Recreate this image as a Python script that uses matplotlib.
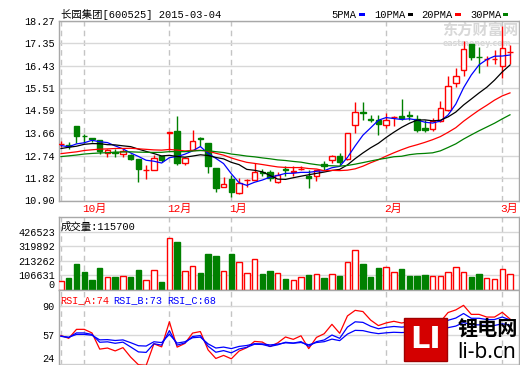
# -*- coding: utf-8 -*-
"""
长园集团 日K线 + 成交量 + RSI 复刻图
"""
import numpy as np
import pandas as pd
import matplotlib
matplotlib.use('Agg')
import matplotlib.pyplot as plt
from matplotlib import transforms
from matplotlib.patches import Rectangle

# ---- 数据 ----
title_text = '长园集团[600525] 2015-03-04'

# 可见区间之前的收盘价 (用于均线/RSI 预热, 估计值)
prior_closes = [12.20, 12.55, 12.30, 12.70, 12.35, 12.60, 12.25, 12.65, 12.40, 12.60,
                12.35, 12.80, 12.45, 12.85, 12.40, 12.75, 12.50, 12.90, 12.45, 12.65,
                12.60, 13.10, 12.75, 13.15, 12.95, 13.35, 12.95, 13.30, 12.93]

opens = [13.20, 13.18, 13.97, 13.55, 13.46, 13.40, 12.85, 12.87, 12.82, 12.75,
         12.60, 12.15, 12.17, 12.71, 13.68, 13.74, 12.44, 12.99, 13.46, 13.26,
         12.24, 11.44, 11.79, 11.22, 11.74, 11.73, 12.05, 12.06, 11.66, 12.19,
         12.08, 12.19, 11.90, 11.92, 12.40, 12.54, 12.71, 12.60, 13.98, 14.51,
         14.24, 14.18, 13.98, 14.31, 14.38, 14.39, 14.24, 13.88, 13.83, 14.15,
         14.63, 15.72, 16.26, 17.33, 16.80, 16.68, 16.68, 16.40, 16.97]
closes = [13.22, 13.12, 13.53, 13.53, 13.44, 12.92, 12.95, 12.85, 12.92, 12.60,
          12.21, 12.17, 12.65, 12.55, 13.70, 12.44, 12.65, 13.33, 13.44, 12.30,
          11.42, 11.58, 11.24, 11.60, 11.76, 12.06, 12.03, 11.83, 11.96, 12.17,
          12.10, 12.21, 11.83, 12.17, 12.30, 12.71, 12.48, 13.67, 14.53, 14.49,
          14.22, 14.04, 14.22, 14.33, 14.29, 14.37, 13.78, 13.78, 14.15, 14.70,
          15.61, 16.02, 17.11, 16.78, 16.78, 16.70, 16.70, 17.15, 16.99]
highs = [13.35, 13.30, 13.97, 13.64, 13.48, 13.40, 13.02, 13.02, 13.02, 12.80,
         12.60, 12.35, 12.78, 12.71, 13.70, 14.38, 12.70, 13.81, 13.50, 13.26,
         12.24, 11.85, 11.96, 11.83, 11.79, 12.44, 12.20, 12.17, 12.06, 12.30,
         12.30, 12.33, 12.17, 12.17, 12.51, 12.78, 12.85, 13.67, 14.93, 14.93,
         14.42, 14.42, 14.49, 14.38, 15.06, 14.56, 14.42, 14.20, 14.29, 14.97,
         16.02, 16.33, 17.42, 17.33, 17.18, 16.81, 17.05, 18.07, 17.29]
lows = [13.10, 13.03, 13.26, 13.27, 13.30, 12.82, 12.69, 12.68, 12.70, 12.55,
        11.66, 11.80, 12.15, 12.46, 12.95, 12.37, 12.37, 12.95, 13.12, 12.03,
        11.24, 11.44, 11.05, 11.17, 11.46, 11.73, 11.92, 11.69, 11.60, 11.92,
        11.90, 12.14, 11.42, 11.69, 12.17, 12.44, 12.37, 12.55, 13.67, 14.18,
        14.11, 13.60, 13.88, 13.94, 14.20, 14.19, 13.71, 13.71, 13.74, 14.10,
        14.55, 15.55, 16.02, 16.65, 16.13, 16.40, 16.51, 15.92, 16.51]
volumes = [69000, 91000, 192000, 129000, 71000, 163000, 96000, 96000, 103000, 96000,
           149000, 76000, 146000, 57000, 379000, 352000, 139000, 173000, 127000, 265000,
           250000, 139000, 265000, 204000, 125000, 226000, 120000, 141000, 125000, 81000,
           74000, 96000, 112000, 117000, 91000, 117000, 105000, 204000, 291000, 192000,
           98000, 163000, 168000, 132000, 156000, 105000, 105000, 112000, 103000, 103000,
           132000, 168000, 132000, 98000, 120000, 88000, 81000, 154000, 115700]

ma_periods = [5, 10, 20, 30]
ma_names = ['5PMA', '10PMA', '20PMA', '30PMA']
rsi_periods = [6, 12, 24]
rsi_label_parts = ['RSI_A:74', 'RSI_B:73', 'RSI_C:68']

month_pos = [0, 3, 14, 22, 42, 57]
month_labels = ['', '10月', '12月', '1月', '2月', '3月']

price_ticks = [10.90, 11.82, 12.74, 13.66, 14.59, 15.51, 16.43, 17.35, 18.27]
vol_ticks = [0, 106631, 213262, 319892, 426523]
rsi_ticks = [24, 57, 90]

# ---- 样式 ----
RED = '#ff0000'
GREEN = '#008000'
BLUE = '#0000ff'
GRID = '#d8d8d8'
VGRID = '#c4c4c4'
SPINE = '#a8a8a8'
ma_colors = [BLUE, 'black', RED, GREEN]
rsi_colors = [RED, BLUE, BLUE]
MONO = ['Liberation Mono', 'Noto Sans CJK SC']
CJK = ['Noto Sans CJK SC', 'DejaVu Sans']

plt.rcParams['font.family'] = MONO

W, H = 520, 365


def fx(px):
    return px / W


def fy(py):
    return 1 - py / H


def style_axes(ax):
    for sp in ax.spines.values():
        sp.set_color(SPINE)
        sp.set_linewidth(1)
    ax.tick_params(length=0, pad=3, labelsize=7.3, colors='black')
    ax.set_xticks([])
    ax.set_xlim(-0.26, 59.1)
    ax.set_axisbelow(True)
    ax.grid(axis='y', color=GRID, linewidth=1)
    for m in month_pos:
        ax.axvline(m, color=VGRID, linewidth=1, linestyle=(0, (4, 3)), zorder=0.5)


# ---- 计算均线和RSI ----
full_close = pd.Series(prior_closes + closes)
n_prior = len(prior_closes)
ma_lines = [full_close.rolling(p).mean().iloc[n_prior:].to_numpy() for p in ma_periods]

diff = full_close.diff().fillna(0)
rsi_lines = []
for p in rsi_periods:
    up_avg = diff.clip(lower=0).ewm(alpha=1 / p, adjust=False).mean()
    abs_avg = diff.abs().ewm(alpha=1 / p, adjust=False).mean()
    rsi_lines.append((up_avg / abs_avg * 100).iloc[n_prior:].to_numpy())

o = np.array(opens)
c = np.array(closes)
hi = np.array(highs)
lo = np.array(lows)
vol = np.array(volumes)
x = np.arange(len(c))
is_up = c >= o
col = np.where(is_up, RED, GREEN)

fig = plt.figure(figsize=(W / 100, H / 100), dpi=100)
fig.patch.set_facecolor('white')

# ---- K线 ----
ax1 = fig.add_axes([fx(59), fy(200.5), fx(459.5), 179.8 / H])
style_axes(ax1)
ax1.set_ylim(10.90, 18.27)
ax1.set_yticks(price_ticks)
ax1.set_yticklabels(['%.2f' % t for t in price_ticks])

ax1.vlines(x, lo, hi, colors=col, linewidth=1, zorder=2)
body_bottom = np.minimum(o, c)
body_h = np.maximum(np.abs(c - o), 0.012)
ax1.bar(x[is_up], body_h[is_up], bottom=body_bottom[is_up], width=0.7,
        facecolor='white', edgecolor=RED, linewidth=1, zorder=3)
ax1.bar(x[~is_up], body_h[~is_up], bottom=body_bottom[~is_up], width=0.7,
        facecolor=GREEN, edgecolor=GREEN, linewidth=1, zorder=3)

for line, color in zip(ma_lines, ma_colors):
    ax1.plot(x, line, color=color, linewidth=0.9, zorder=4)

# 月份标签
trans = transforms.blended_transform_factory(ax1.transData, ax1.transAxes)
for m, lab in zip(month_pos, month_labels):
    if lab:
        ax1.text(m - 0.3, -0.045, lab, transform=trans, ha='left', va='center',
                 fontsize=8, color=RED)

# 东方财富 水印
ax1.text(fx(442), fy(30), '东方财富网', transform=fig.transFigure, fontsize=11,
         family=CJK, weight='bold', color='#d8d8d8', va='center', ha='left', zorder=0.6)
ax1.text(fx(443), fy(43), 'eastmoney.com', transform=fig.transFigure, fontsize=5.6,
         family=['DejaVu Sans'], weight='bold', color='#d8d8d8', va='center', ha='left',
         zorder=0.6)

# 标题和图例
fig.text(fx(61), fy(14.5), title_text, fontsize=7.5, va='center', ha='left')
legend_x = [331, 374.3, 421.7, 470]
mark_x = [359.3, 407.7, 455, 502.7]
for name, lx, mx, color in zip(ma_names, legend_x, mark_x, ma_colors):
    fig.text(fx(lx), fy(14.5), name, fontsize=7.5, va='center', ha='left')
    fig.patches.append(Rectangle((fx(mx), fy(15.5)), fx(5.5), 3 / H, transform=fig.transFigure,
                                 facecolor=color, edgecolor='none'))

# ---- 成交量 ----
ax2 = fig.add_axes([fx(59), fy(290), fx(459.5), 73.3 / H])
style_axes(ax2)
ax2.set_ylim(0, 535000)
ax2.set_yticks(vol_ticks)
ax2.set_yticklabels([str(t) for t in vol_ticks])
ax2.yaxis.get_major_ticks()[0].label1.set_verticalalignment('bottom')
ax2.bar(x[is_up], vol[is_up], width=0.7, facecolor='white', edgecolor=RED,
        linewidth=1, zorder=3)
ax2.bar(x[~is_up], vol[~is_up], width=0.7, facecolor=GREEN, edgecolor=GREEN,
        linewidth=1, zorder=3)
ax2.text(0.003, 0.87, '成交量:%d' % volumes[-1], transform=ax2.transAxes,
         fontsize=7.5, va='center', ha='left')

# ---- RSI ----
ax3 = fig.add_axes([fx(59), 0, fx(459.5), 75 / H])
style_axes(ax3)
ax3.set_ylim(23.2, 107.7)
ax3.set_yticks(rsi_ticks)
ax3.set_yticklabels([str(t) for t in rsi_ticks])
ax3.yaxis.get_major_ticks()[0].label1.set_verticalalignment('bottom')
for line, color in zip(rsi_lines, rsi_colors):
    ax3.plot(x, line, color=color, linewidth=0.9, zorder=3)
rsi_text_x = [60, 113, 167]
for part, tx, color in zip(rsi_label_parts, rsi_text_x, rsi_colors):
    fig.text(fx(tx), fy(300), part, fontsize=7.3, color=color, va='center', ha='left')

# ---- 锂电网 标志 ----
fig.patches.append(Rectangle((fx(404), fy(361)), fx(43), 43 / H, transform=fig.transFigure,
                             facecolor='#d40000', edgecolor='#a00000', linewidth=1, zorder=5))
fig.text(fx(425.5), fy(340), 'LI', fontsize=22, weight='bold', color='white',
         family=['DejaVu Sans'], ha='center', va='center', zorder=6)
fig.text(fx(488), fy(328), '锂电网', fontsize=14.5, weight='bold', color='black',
         family=CJK, ha='center', va='center', zorder=6)
fig.text(fx(487), fy(352), 'li-b.cn', fontsize=15, color='black',
         family=['Noto Sans', 'DejaVu Sans'], ha='center', va='center', zorder=6)

fig.savefig('out.png', dpi=100)
plt.close(fig)
